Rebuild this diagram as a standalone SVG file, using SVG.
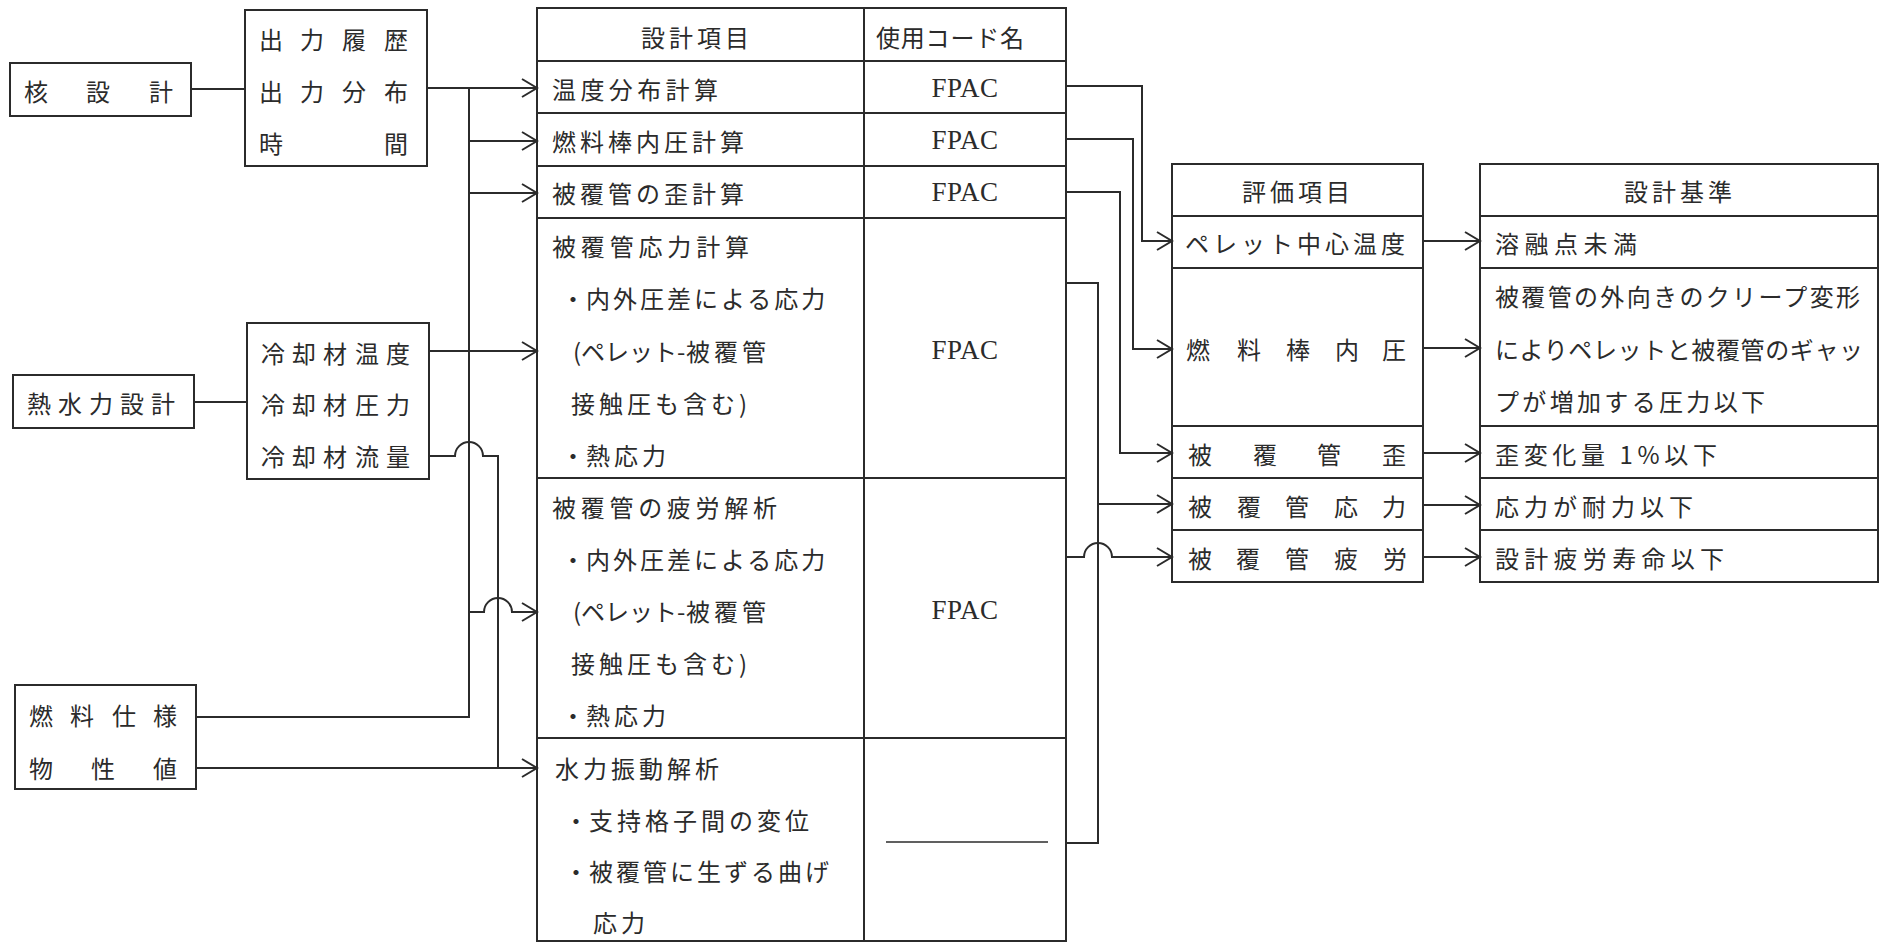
<svg xmlns="http://www.w3.org/2000/svg" width="1885" height="947" viewBox="0 0 1885 947">
<defs>
<style>
.bx{fill:none;stroke:#2b2b2b;stroke-width:2}
.ln{fill:none;stroke:#2b2b2b;stroke-width:2}
.ar{marker-end:url(#arr)}
text{font-family:"Noto Sans CJK JP","Noto Sans CJK SC",sans-serif;font-size:24px;fill:#2b2b2b;dominant-baseline:central}
.ls{letter-spacing:4px}
.mid{text-anchor:middle}
.fp{font-family:"Liberation Serif",serif;font-size:27px;text-anchor:middle;letter-spacing:0.5px;dominant-baseline:alphabetic}
</style>
<marker id="arr" markerUnits="userSpaceOnUse" viewBox="-17 -11 19 22" refX="0" refY="0" markerWidth="19" markerHeight="22" orient="auto">
<path d="M-15,-9 L0,0 L-15,9" fill="none" stroke="#2b2b2b" stroke-width="2"/>
</marker>
</defs>
<rect x="0" y="0" width="1885" height="947" fill="#ffffff"/>

<g id="n-kaku">
<rect class="bx" x="10" y="63" width="181" height="53"/>
<text class="mid" x="36 98 161" y="90">核設計</text>
</g>

<g id="n-shutsuryoku">
<rect class="bx" x="245" y="10" width="182" height="156"/>
<text class="mid" x="271 312 354 396" y="38">出力履歴</text>
<text class="mid" x="271 312 354 396" y="90">出力分布</text>
<text class="mid" x="271 396" y="142">時間</text>
</g>

<g id="n-netsu">
<rect class="bx" x="13" y="375" width="181" height="53"/>
<text class="mid" x="39 70 101 132 163" y="402">熱水力設計</text>
</g>

<g id="n-reikyaku">
<rect class="bx" x="247" y="323" width="182" height="156"/>
<text class="mid" x="273 304 335 367 398" y="352">冷却材温度</text>
<text class="mid" x="273 304 335 367 398" y="403">冷却材圧力</text>
<text class="mid" x="273 304 335 367 398" y="455">冷却材流量</text>
</g>

<g id="n-nenryo">
<rect class="bx" x="15" y="685" width="181" height="104"/>
<text class="mid" x="41 82 124 165" y="714">燃料仕様</text>
<text class="mid" x="41 103 165" y="767">物性値</text>
</g>

<g id="n-table">
<rect class="bx" x="537" y="8" width="529" height="933"/>
<line class="ln" x1="864" y1="8" x2="864" y2="941"/>
<line class="ln" x1="537" y1="61" x2="1066" y2="61"/>
<line class="ln" x1="537" y1="113" x2="1066" y2="113"/>
<line class="ln" x1="537" y1="166" x2="1066" y2="166"/>
<line class="ln" x1="537" y1="218" x2="1066" y2="218"/>
<line class="ln" x1="537" y1="478" x2="1066" y2="478"/>
<line class="ln" x1="537" y1="738" x2="1066" y2="738"/>
<line x1="886" y1="842" x2="1048" y2="842" stroke="#2b2b2b" stroke-width="1.6"/>
<text class="ls" x="641" y="36">設計項目</text>
<text x="876" y="36" textLength="148" lengthAdjust="spacing">使用コード名</text>
<text x="552" y="88" textLength="166" lengthAdjust="spacing">温度分布計算</text>
<text class="ls" x="552" y="140">燃料棒内圧計算</text>
<text class="ls" x="552" y="192">被覆管の歪計算</text>
<text x="552" y="245" textLength="197" lengthAdjust="spacing">被覆管応力計算</text>
<text y="297"><tspan x="561">・</tspan><tspan x="586" letter-spacing="3">内外圧差による応力</tspan></text>
<text y="350"><tspan x="573">(ペレット-</tspan><tspan x="686" letter-spacing="4">被覆管</tspan></text>
<text class="ls" x="571" y="402">接触圧も含む)</text>
<text y="454"><tspan x="561">・</tspan><tspan x="586" letter-spacing="4">熱応力</tspan></text>
<text x="552" y="506" textLength="225" lengthAdjust="spacing">被覆管の疲労解析</text>
<text y="558"><tspan x="561">・</tspan><tspan x="586" letter-spacing="3">内外圧差による応力</tspan></text>
<text y="610"><tspan x="573">(ペレット-</tspan><tspan x="686" letter-spacing="4">被覆管</tspan></text>
<text class="ls" x="571" y="662">接触圧も含む)</text>
<text y="714"><tspan x="561">・</tspan><tspan x="586" letter-spacing="4">熱応力</tspan></text>
<text class="ls" x="555" y="767">水力振動解析</text>
<text y="819"><tspan x="564">・</tspan><tspan x="589" letter-spacing="4">支持格子間の変位</tspan></text>
<text y="870"><tspan x="564">・</tspan><tspan x="589" letter-spacing="3">被覆管に生ずる曲げ</tspan></text>
<text class="ls" x="593" y="921">応力</text>
<text class="fp" x="965" y="97">FPAC</text>
<text class="fp" x="965" y="149">FPAC</text>
<text class="fp" x="965" y="201">FPAC</text>
<text class="fp" x="965" y="359">FPAC</text>
<text class="fp" x="965" y="619">FPAC</text>
</g>

<g id="n-hyoka">
<rect class="bx" x="1172" y="164" width="251" height="418"/>
<line class="ln" x1="1172" y1="216" x2="1423" y2="216"/>
<line class="ln" x1="1172" y1="268" x2="1423" y2="268"/>
<line class="ln" x1="1172" y1="426" x2="1423" y2="426"/>
<line class="ln" x1="1172" y1="478" x2="1423" y2="478"/>
<line class="ln" x1="1172" y1="530" x2="1423" y2="530"/>
<text class="ls" x="1242" y="190">評価項目</text>
<text class="ls" x="1185" y="242">ペレット中心温度</text>
<text class="mid" x="1198 1249 1298 1347 1394" y="348">燃料棒内圧</text>
<text class="mid" x="1200 1265 1329 1394" y="453">被覆管歪</text>
<text class="mid" x="1200 1249 1297 1346 1394" y="505">被覆管応力</text>
<text class="mid" x="1200 1248 1297 1346 1395" y="557">被覆管疲労</text>
</g>

<g id="n-kijun">
<rect class="bx" x="1480" y="164" width="398" height="418"/>
<line class="ln" x1="1480" y1="216" x2="1878" y2="216"/>
<line class="ln" x1="1480" y1="268" x2="1878" y2="268"/>
<line class="ln" x1="1480" y1="426" x2="1878" y2="426"/>
<line class="ln" x1="1480" y1="478" x2="1878" y2="478"/>
<line class="ln" x1="1480" y1="530" x2="1878" y2="530"/>
<text class="ls" x="1624" y="190">設計基準</text>
<text x="1495" y="242" textLength="142" lengthAdjust="spacing">溶融点未満</text>
<text x="1495" y="295" textLength="365" lengthAdjust="spacing">被覆管の外向きのクリープ変形</text>
<text x="1495" y="348" textLength="368" lengthAdjust="spacing">によりペレットと被覆管のギャッ</text>
<text x="1495" y="400" textLength="270" lengthAdjust="spacing">プが増加する圧力以下</text>
<text x="1495" y="453" textLength="222" lengthAdjust="spacing">歪変化量 1%以下</text>
<text x="1495" y="505" textLength="198" lengthAdjust="spacing">応力が耐力以下</text>
<text x="1495" y="557" textLength="229" lengthAdjust="spacing">設計疲労寿命以下</text>
</g>

<g id="connectors" class="ln">
<path d="M191,89 H245"/>
<path class="ar" d="M427,88 H537"/>
<path d="M196,717 H469 V88"/>
<path class="ar" d="M469,141 H537"/>
<path class="ar" d="M469,193 H537"/>
<path d="M194,402 H247"/>
<path class="ar" d="M429,351 H537"/>
<path d="M429,456 H455 A14,14 0 0 1 483,456 H498 V768"/>
<path class="ar" d="M196,768 H537"/>
<path class="ar" d="M469,612 H484 A14,14 0 0 1 512,612 H537"/>
<path class="ar" d="M1066,86 H1142 V241 H1172"/>
<path class="ar" d="M1066,139 H1133 V349 H1172"/>
<path class="ar" d="M1066,192 H1120 V453 H1172"/>
<path d="M1066,283 H1098 V843 H1066"/>
<path class="ar" d="M1098,504 H1172"/>
<path class="ar" d="M1066,557 H1084 A14,14 0 0 1 1112,557 H1172"/>
<path class="ar" d="M1423,241 H1480"/>
<path class="ar" d="M1423,348 H1480"/>
<path class="ar" d="M1423,453 H1480"/>
<path class="ar" d="M1423,505 H1480"/>
<path class="ar" d="M1423,557 H1480"/>
</g>
</svg>
